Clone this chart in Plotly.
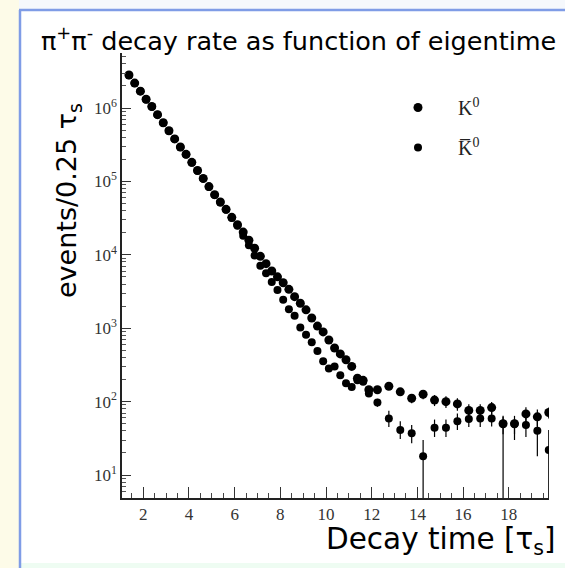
import plotly.graph_objects as go

# bin centres (events per 0.25 tau_s up to 12, then 0.5 tau_s)
t_fine = [1.375, 1.625, 1.875, 2.125, 2.375, 2.625, 2.875, 3.125, 3.375, 3.625,
          3.875, 4.125, 4.375, 4.625, 4.875, 5.125, 5.375, 5.625, 5.875, 6.125,
          6.375, 6.625, 6.875, 7.125, 7.375, 7.625, 7.875, 8.125, 8.375, 8.625,
          8.875, 9.125, 9.375, 9.625, 9.875, 10.125, 10.375, 10.625, 10.875, 11.125,
          11.375, 11.625, 11.875]
t_tail = [12.25, 12.75, 13.25, 13.75, 14.25, 14.75, 15.25, 15.75, 16.25, 16.75,
          17.25, 17.75, 18.25, 18.75, 19.25, 19.75]

k0_fine = [2.82e6, 2.19e6, 1.70e6, 1.32e6, 1.05e6, 8.13e5, 6.31e5, 4.90e5, 3.80e5, 2.95e5,
           2.34e5, 1.82e5, 1.41e5, 1.10e5, 8.51e4, 6.61e4, 5.25e4, 4.17e4, 3.24e4, 2.57e4,
           2.04e4, 1.58e4, 1.23e4, 9550, 7590, 6030, 5010, 4170, 3390, 2690,
           2190, 1780, 1380, 1070, 891, 692, 537, 447, 372, 302,
           209, 195, 145]
k0_tail = [145, 162, 136, 111, 126, 105, 100, 93, 76, 76, 83, 50, 50, 68, 62, 71]
k0_tail_err = [14, 16, 16, 16, 18, 18, 18, 18, 16, 16, 16, 14, 14, 16, 16, 12]

k0bar_fine = [2.80e6, 2.18e6, 1.69e6, 1.31e6, 1.04e6, 8.10e5, 6.28e5, 4.87e5, 3.78e5, 2.93e5,
              2.32e5, 1.80e5, 1.40e5, 1.09e5, 8.40e4, 6.55e4, 5.18e4, 4.10e4, 3.18e4, 2.50e4,
              1.82e4, 1.35e4, 9770, 7080, 5620, 4270, 3310, 2450, 1820, 1480,
              1020, 813, 646, 490, 355, 282, 302, 229, 178, 158,
              195, 186, 129]
k0bar_tail = [97, 59, 41, 37, 18, 44, 44, 54, 58, 59, 59, 50, 50, 48, 40, 22]
k0bar_tail_errp = [12, 16, 13, 11, 12, 13, 13, 15, 15, 16, 15, 12, 8, 17, 28, 19]
k0bar_tail_errm = [12, 14, 10, 10, 17, 11, 11, 13, 13, 14, 13, 47, 20, 15, 22, 21]

y_tickvals = [10, 100, 1000, 10000, 100000, 1000000]
y_ticktext = ["10<sup>1</sup>", "10<sup>2</sup>", "10<sup>3</sup>",
              "10<sup>4</sup>", "10<sup>5</sup>", "10<sup>6</sup>"]
x_tickvals = [2, 4, 6, 8, 10, 12, 14, 16, 18]

fig = go.Figure()

fig.add_trace(go.Scatter(
    x=t_fine + t_tail, y=k0_fine + k0_tail, mode="markers",
    name="K<sup>0</sup>", legendgroup="a",
    marker=dict(color="black", size=9, symbol="circle"),
    error_y=dict(type="data", array=[0] * len(t_fine) + k0_tail_err,
                 color="black", thickness=1.2, width=0),
))
fig.add_trace(go.Scatter(
    x=t_fine + t_tail, y=k0bar_fine + k0bar_tail, mode="markers",
    name="K\u0305<sup>0</sup>", legendgroup="b",
    marker=dict(color="black", size=8, symbol="circle"),
    error_y=dict(type="data", symmetric=False,
                 array=[0] * len(t_fine) + k0bar_tail_errp,
                 arrayminus=[0] * len(t_fine) + k0bar_tail_errm,
                 color="black", thickness=1.2, width=0),
))

L, R, T, B = 122, 16, 53, 70
W, H = 565, 568
pw, ph = W - L - R, H - T - B

def px(x):
    return (x - L) / pw

def py(y):
    return (H - B - y) / ph

noline = dict(width=0, color="rgba(0,0,0,0)")
shapes = [
    dict(type="rect", xref="paper", yref="paper", x0=px(0), x1=px(19), y0=py(568), y1=py(0),
         fillcolor="#fdfbe8", line=noline, layer="below"),
    dict(type="rect", xref="paper", yref="paper", x0=px(19), x1=px(565), y0=py(10), y1=py(0),
         fillcolor="#f5f8fc", line=noline, layer="below"),
    dict(type="rect", xref="paper", yref="paper", x0=px(19), x1=px(565), y0=py(568), y1=py(563),
         fillcolor="#eefcf2", line=noline, layer="below"),
    dict(type="line", xref="paper", yref="paper", x0=px(20), x1=px(20), y0=py(568), y1=py(10),
         line=dict(color="#7f9ce6", width=2.5)),
    dict(type="line", xref="paper", yref="paper", x0=px(19), x1=px(565), y0=py(10), y1=py(10),
         line=dict(color="#7f9ce6", width=2.5)),
]

annotations = [
    dict(text="π<sup>+</sup>π<sup>-</sup> decay rate as function of eigentime",
         xref="paper", yref="paper", x=px(39), y=py(39), xanchor="left", yanchor="middle",
         showarrow=False, font=dict(family="DejaVu Sans", size=25.5, color="black")),
    dict(text="events/0.25 τ<sub>s</sub>", textangle=-90,
         xref="paper", yref="paper", x=px(68), y=py(201), xanchor="center", yanchor="middle",
         showarrow=False, font=dict(family="DejaVu Sans", size=27, color="black")),
    dict(text="Decay time [τ<sub>s</sub>]",
         xref="paper", yref="paper", x=px(558), y=py(541), xanchor="right", yanchor="middle",
         showarrow=False, font=dict(family="DejaVu Sans", size=29.5, color="black")),
]

fig.update_layout(
    width=W, height=H,
    margin=dict(l=L, r=R, t=T, b=B),
    paper_bgcolor="white", plot_bgcolor="white",
    shapes=shapes, annotations=annotations,
    showlegend=True,
    legend=dict(x=px(378), y=py(88), xanchor="left", yanchor="top",
                traceorder="grouped", tracegroupgap=11, itemwidth=70,
                bgcolor="rgba(0,0,0,0)",
                font=dict(family="Liberation Serif", size=20, color="#222")),
)

fig.update_xaxes(
    range=[1.07, 19.76], showgrid=False, zeroline=False,
    showline=True, linecolor="#222", linewidth=1.5,
    ticks="inside", ticklen=11, tickwidth=1.2, tickcolor="#333",
    tickvals=x_tickvals,
    minor=dict(ticks="inside", ticklen=5, tickwidth=1, tickcolor="#444", dtick=0.5, tick0=0),
    tickfont=dict(family="Liberation Serif", size=17, color="#333"),
)
fig.update_yaxes(
    type="log", range=[0.687, 6.75], showgrid=False, zeroline=False,
    showline=True, linecolor="#222", linewidth=1.5,
    ticks="inside", ticklen=9, tickwidth=1.2, tickcolor="#333",
    tickvals=y_tickvals, ticktext=y_ticktext,
    minor=dict(ticks="inside", ticklen=4, tickwidth=1, tickcolor="#555", dtick="D1"),
    tickfont=dict(family="Liberation Serif", size=17, color="#333"),
)

fig.write_html("out.html")
